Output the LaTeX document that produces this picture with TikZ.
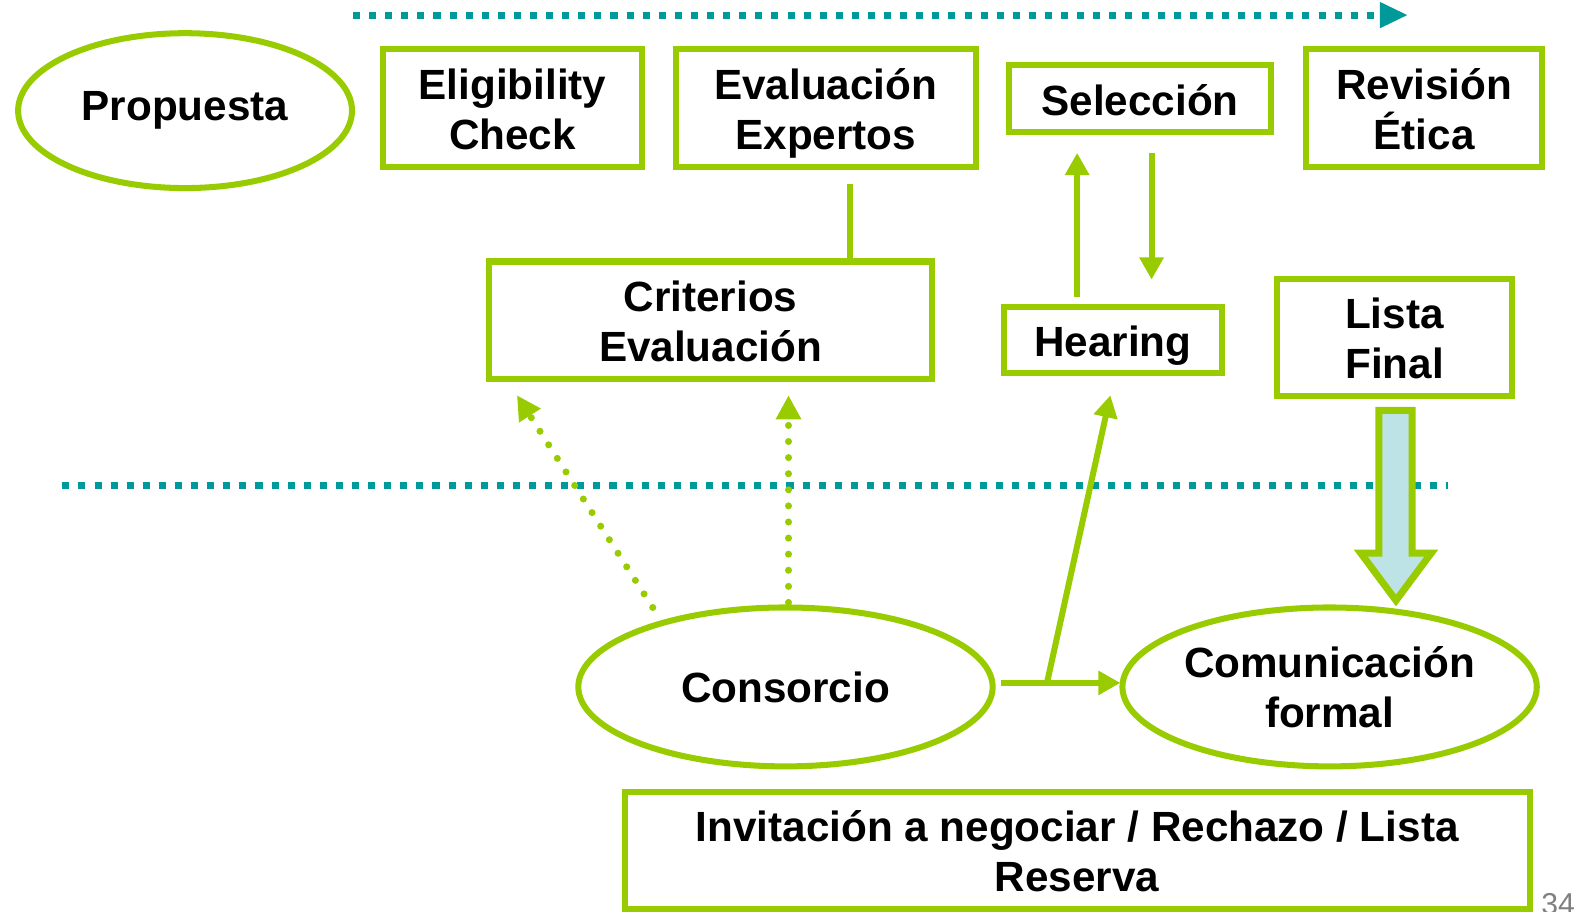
\documentclass[tikz,border=0pt]{standalone}
\usepackage{fontspec}
\setmainfont{Liberation Sans}
\usetikzlibrary{shapes.geometric,arrows.meta}
\definecolor{verde}{HTML}{99CC00}
\definecolor{turquesa}{HTML}{009999}
\definecolor{celeste}{HTML}{BEE3E6}
\newcommand{\puntal}{\rule[-8.5pt]{0pt}{50pt}}
\newcommand{\alto}{\rule{0pt}{41pt}}
\begin{document}
\begin{tikzpicture}[x=1pt,y=-1pt,font=\fontsize{42}{50}\selectfont\bfseries,
	caja/.style={draw=verde,line width=6pt,rectangle,inner sep=0pt,align=center,
		execute at begin node=\puntal,execute at end node=\puntal},
	elipse/.style={draw=verde,line width=6pt,ellipse,inner sep=0pt,align=center},
	flecha/.style={draw=verde,line width=6pt,-{Triangle[length=22pt,width=23pt]}},
	punteada/.style={draw=verde,line width=7pt,line cap=round,dash pattern=on 0pt off 16pt,-{Triangle[length=24pt,width=24pt]}},
	tiempo/.style={draw=turquesa,line width=7pt,dash pattern=on 7pt off 9pt}]
	\useasboundingbox (0,0) rectangle (1568,906);
	\draw[tiempo,-{Triangle[length=28pt,width=24pt]}] (351,15) -- (1400,15);
	\draw[tiempo] (62,483) -- (1440,483);
	\node[elipse,minimum width=332pt,minimum height=154pt] (prop) at (184,110) {Propuesta};
	\node[caja,minimum width=257pt,minimum height=117pt] (elig) at (509.5,107.5) {\alto Eligibility\\Check};
	\node[caja,minimum width=298pt,minimum height=117pt] (expe) at (821,107.5) {\alto Evaluación\\Expertos};
	\node[caja,minimum width=261pt,minimum height=66pt] (sele) at (1133.5,98) {Selección};
	\node[caja,minimum width=234pt,minimum height=117pt] (etic) at (1416,107.5) {\alto Revisión\\Ética};
	\node[caja,minimum width=441pt,minimum height=117pt] (crit) at (706.5,318.5) {\alto Criterios\\Evaluación};
	\node[caja,minimum width=217pt,minimum height=66pt] (hear) at (1106.5,338) {Hearing};
	\node[caja,minimum width=233pt,minimum height=117pt] (list) at (1386.5,335.5) {\alto Lista\\Final};
	\node[elipse,minimum width=412pt,minimum height=158pt] (cons) at (781,683) {Consorcio};
	\node[elipse,minimum width=412pt,minimum height=158pt] (comu) at (1322,683) {Comunicación\\formal};
	\node[caja,minimum width=900pt,minimum height=117pt] (invi) at (1071,845.5) {\alto Invitación a negociar / Rechazo / Lista\\Reserva};
	\node[anchor=base west,text=gray,font=\fontsize{30}{30}\selectfont] (pag) at (1529,909) {34};
	\coordinate (e1) at (845,183); \coordinate (e2) at (845,263);
	\coordinate (h1) at (1071,295); \coordinate (s1) at (1071,152);
	\coordinate (s2) at (1145,152); \coordinate (h2) at (1145,278);
	\coordinate (c1) at (649,604); \coordinate (k1) at (514,393);
	\coordinate (c2) at (784,599); \coordinate (k2) at (784,393);
	\coordinate (c3) at (995,679); \coordinate (m1) at (1114,679);
	\coordinate (c4) at (1041,679); \coordinate (h3) at (1104,393);
	\draw[verde,line width=6pt] (e1) -- (e2);
	\draw[flecha] (h1) -- (s1);
	\draw[flecha] (s2) -- (h2);
	\draw[punteada] (c1) -- (k1);
	\draw[punteada] (c2) -- (k2);
	\draw[flecha] (c3) -- (m1);
	\draw[flecha] (c4) -- (h3);
	\draw[draw=verde,fill=celeste,line width=7pt] (1371,408) -- (1404,408) -- (1404,550) -- (1423,550)
		-- (1388,597) -- (1353,550) -- (1371,550) -- cycle;
\end{tikzpicture}
\end{document}
